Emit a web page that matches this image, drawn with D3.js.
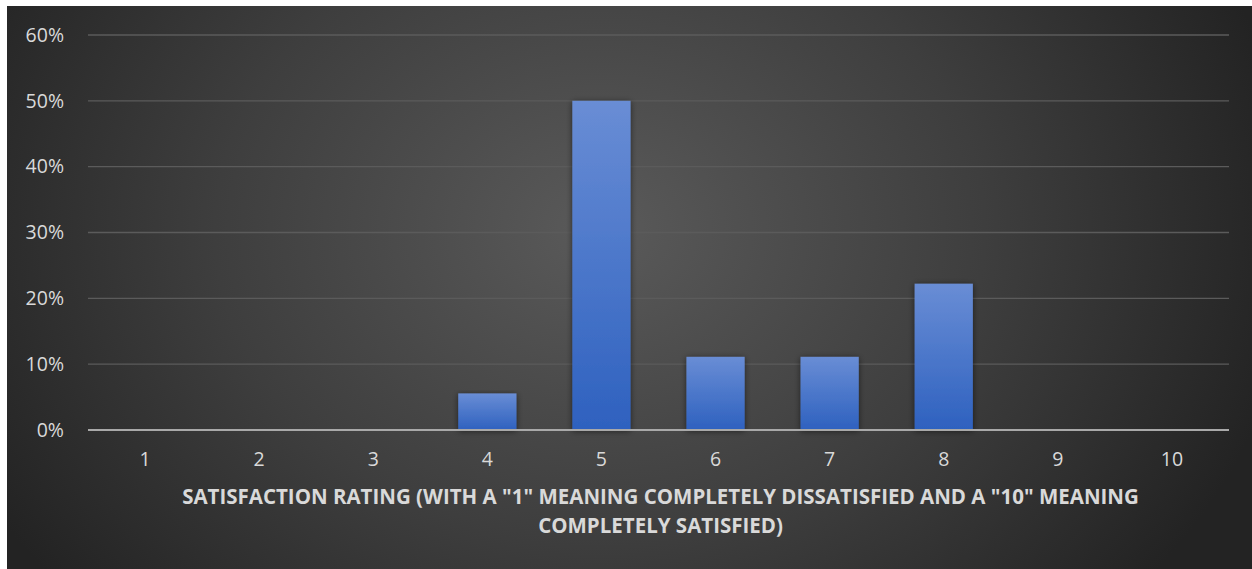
<!DOCTYPE html>
<html>
<head>
<meta charset="utf-8">
<script src="https://cdn.jsdelivr.net/npm/d3@7/dist/d3.min.js"></script>
<style>
  html, body { margin: 0; padding: 0; background: #ffffff; }
  svg { display: block; }
</style>
</head>
<body>
<svg id="chart" width="1252" height="569"></svg>
<script>
// Share of respondents for each satisfaction rating (1–10)
const ratings = ["1", "2", "3", "4", "5", "6", "7", "8", "9", "10"];
const shares = [0, 0, 0, 1 / 18, 9 / 18, 2 / 18, 2 / 18, 4 / 18, 0, 0];
const yTicks = [0, 0.1, 0.2, 0.3, 0.4, 0.5, 0.6];
const titleLines = [
  "SATISFACTION RATING (WITH A \"1\" MEANING COMPLETELY DISSATISFIED AND A \"10\" MEANING",
  "COMPLETELY SATISFIED)"
];

const W = 1252, H = 569;
const panel = { x: 7, y: 6, w: W - 7, h: H - 6 };
const margin = { left: 88, right: W - 1229, top: 35, bottom: H - 430 };

const svg = d3.select("#chart");
const defs = svg.append("defs");

const bg = defs.append("radialGradient").attr("id", "bgGrad")
  .attr("gradientUnits", "userSpaceOnUse")
  .attr("cx", 600).attr("cy", 230).attr("r", 700)
  .attr("gradientTransform", "translate(600,230) scale(1,0.8) translate(-600,-230)");
bg.append("stop").attr("offset", "0%").attr("stop-color", "#5a5a5a");
bg.append("stop").attr("offset", "55%").attr("stop-color", "#3e3e3e");
bg.append("stop").attr("offset", "100%").attr("stop-color", "#232323");

const barGrad = defs.append("linearGradient").attr("id", "barGrad")
  .attr("x1", 0).attr("y1", 0).attr("x2", 0).attr("y2", 1);
barGrad.append("stop").attr("offset", "0%").attr("stop-color", "#698dd5");
barGrad.append("stop").attr("offset", "100%").attr("stop-color", "#2e61bf");

const shadow = defs.append("filter").attr("id", "barShadow")
  .attr("x", "-30%").attr("y", "-10%").attr("width", "160%").attr("height", "130%");
shadow.append("feGaussianBlur").attr("in", "SourceAlpha").attr("stdDeviation", 3).attr("result", "b");
shadow.append("feOffset").attr("in", "b").attr("dx", 0).attr("dy", 1).attr("result", "o");
shadow.append("feComponentTransfer").attr("in", "o").attr("result", "s")
  .append("feFuncA").attr("type", "linear").attr("slope", 0.55);
const merge = shadow.append("feMerge");
merge.append("feMergeNode").attr("in", "s");
merge.append("feMergeNode").attr("in", "SourceGraphic");

svg.append("rect")
  .attr("x", panel.x).attr("y", panel.y)
  .attr("width", panel.w).attr("height", panel.h)
  .attr("fill", "url(#bgGrad)");

const x = d3.scaleBand().domain(ratings)
  .range([margin.left, W - margin.right])
  .paddingInner(0.49).paddingOuter(0.245);
const y = d3.scaleLinear().domain([0, 0.6]).range([H - margin.bottom, margin.top]);

const font = "Open Sans, 'Noto Sans', sans-serif";

// Horizontal gridlines
svg.append("g")
  .selectAll("line").data(yTicks.filter(d => d > 0)).join("line")
  .attr("x1", margin.left).attr("x2", W - margin.right)
  .attr("y1", d => y(d)).attr("y2", d => y(d))
  .attr("stroke", "#5b5b5b").attr("stroke-width", 1.3);

// Y axis labels
const yAxis = d3.axisLeft(y).tickValues(yTicks).tickFormat(d3.format(".0%")).tickSize(0).tickPadding(24);
svg.append("g").attr("transform", `translate(${margin.left},0)`).call(yAxis)
  .call(g => g.select(".domain").remove())
  .call(g => g.selectAll("text").attr("fill", "#d9d9d9")
    .style("font-family", font).style("font-size", "19.5px"));

// Bars
svg.append("g")
  .selectAll("rect").data(ratings.map((r, i) => ({ r, v: shares[i] })).filter(d => d.v > 0)).join("rect")
  .attr("x", d => x(d.r)).attr("width", x.bandwidth())
  .attr("y", d => y(d.v)).attr("height", d => y(0) - y(d.v))
  .attr("fill", "url(#barGrad)")
  .attr("filter", "url(#barShadow)");

// Baseline
svg.append("line")
  .attr("x1", margin.left).attr("x2", W - margin.right)
  .attr("y1", y(0)).attr("y2", y(0))
  .attr("stroke", "#a9a9a9").attr("stroke-width", 2.2);

// X axis labels
const xAxis = d3.axisBottom(x).tickSize(0).tickPadding(22);
svg.append("g").attr("transform", `translate(0,${y(0)})`).call(xAxis)
  .call(g => g.select(".domain").remove())
  .call(g => g.selectAll("text").attr("fill", "#d9d9d9")
    .style("font-family", font).style("font-size", "19.5px"));

// Axis title
svg.append("g").selectAll("text").data(titleLines).join("text")
  .attr("x", (margin.left + W - margin.right) / 2 + 2)
  .attr("y", (d, i) => 504 + i * 29)
  .attr("text-anchor", "middle")
  .attr("fill", "#d9d9d9")
  .style("font-family", font).style("font-weight", "bold").style("font-size", "20.5px")
  .text(d => d);
</script>
</body>
</html>
